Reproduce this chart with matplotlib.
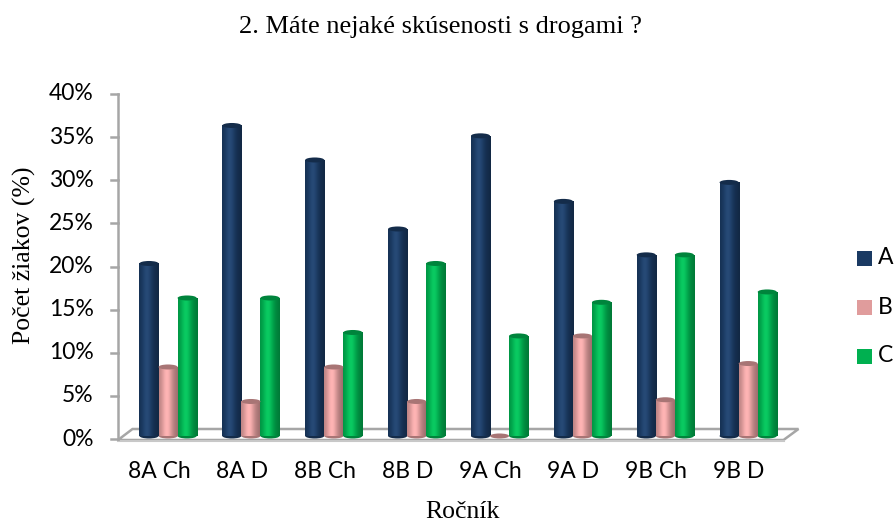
import numpy as np
import matplotlib.pyplot as plt
from matplotlib.patches import Rectangle, Ellipse, Polygon
from matplotlib.colors import to_rgb

# --- data ---
categories = ['8A Ch', '8A D', '8B Ch', '8B D', '9A Ch', '9A D', '9B Ch', '9B D']
series_names = ['A', 'B', 'C']
values_a = [20.0, 36.0, 32.0, 24.0, 34.8, 27.2, 21.0, 29.4]
values_b = [8.0, 4.0, 8.0, 4.0, 0.0, 11.6, 4.2, 8.4]
values_c = [16.0, 16.0, 12.0, 20.0, 11.6, 15.5, 21.0, 16.7]
y_ticks = [0, 5, 10, 15, 20, 25, 30, 35, 40]

colors = ['#1A3A63', '#E09C9C', '#00B050']
title = '2. Máte nejaké skúsenosti s drogami ?'
ylabel = 'Počet žiakov (%)'
xlabel = 'Ročník'

SANS = ['Lato', 'DejaVu Sans']
SERIF = ['Liberation Serif', 'DejaVu Serif']

W, H = 896, 524
fig = plt.figure(figsize=(W / 100, H / 100), dpi=100)
# plot area: x=-0.5 at px 117.5, x=7.5 at px 780.5; 0% at px 439, 40% at px 94
ax = fig.add_axes([117.5 / W, (H - 439) / H, 663 / W, 345 / H])
ax.set_xlim(-0.5, 7.5)
ax.set_ylim(0, 40)
ax.axis('off')

px_x = 8 / 663.0     # data units per pixel, x
px_y = 40 / 345.0    # data units per pixel, y

# perspective offsets for the 3d look
lift = 0.35          # bars sit a bit above the front floor edge
cap_h = 5 * px_y     # ellipse height of cylinder caps
bar_w = 0.23
offsets = [-0.12, 0.11, 0.34]


def shade(c, n=64):
    base = np.array(to_rgb(c))
    t = np.linspace(0, 1, n)
    # slightly lighter band left of centre, darker towards the edges
    f = 0.80 + 0.30 * np.exp(-((t - 0.4) / 0.3) ** 2) - 0.12 * t ** 3
    rgb = np.clip(base[None, :] * f[:, None] + 0.04 * np.exp(-((t - 0.4) / 0.2) ** 2)[:, None], 0, 1)
    return rgb[None, :, :]


# floor (thin 3d base)
gray = '#A6A6A6'
front_l = (-0.5 + 0.5 * px_x, -1.0 * px_y)
back_l = (-0.5 + 15 * px_x, 10 * px_y)
back_r = (-0.5 + 681 * px_x, 10 * px_y)
front_r = (-0.5 + 666 * px_x, -1.0 * px_y)
ax.add_patch(Polygon([front_l, back_l, back_r, front_r], closed=True,
                     facecolor='white', edgecolor=gray, lw=1.8, clip_on=False, zorder=1))
ax.plot([front_l[0], front_r[0]], [front_l[1] - 1.2 * px_y, front_r[1] - 1.2 * px_y],
        color='#C8C8C8', lw=1.5, clip_on=False, zorder=1)

# value axis with ticks
ax.plot([-0.5, -0.5], [0, 40], color=gray, lw=1.8, clip_on=False, zorder=2)
for t in y_ticks:
    ax.plot([-0.5 - 7 * px_x, -0.5], [t, t], color=gray, lw=1.8, clip_on=False, zorder=2)
    ax.text(-0.5 - 24 * px_x, t, f'{t}%', ha='right', va='center',
            fontsize=16.5, family=SANS, color='#000000')

for i, cat in enumerate(categories):
    ax.text(i, -33 * px_y, cat, ha='center', va='center', fontsize=16.5,
            family=SANS, color='#000000')

all_vals = [values_a, values_b, values_c]
for s, vals in enumerate(all_vals):
    col = colors[s]
    dark = tuple(np.array(to_rgb(col)) * 0.75)
    for i, v in enumerate(vals):
        x0 = i + offsets[s] - bar_w / 2
        y0 = lift
        y1 = lift + v
        z = 3 + i * 0.1
        if v > 0:
            rect = Rectangle((x0, y0), bar_w, v, facecolor='none', edgecolor='none')
            ax.add_patch(rect)
            im = ax.imshow(shade(col), extent=(x0, x0 + bar_w, y0, y1),
                           aspect='auto', zorder=z, interpolation='bilinear')
            im.set_clip_path(rect)
            # bottom rounded edge
            ax.add_patch(Ellipse((x0 + bar_w / 2, y0), bar_w, cap_h,
                                 facecolor=dark, edgecolor='none', zorder=z - 0.01))
        ax.add_patch(Ellipse((x0 + bar_w / 2, y1), bar_w, cap_h,
                             facecolor=dark, edgecolor='none', zorder=z + 0.01))

# reset limits after imshow
ax.set_xlim(-0.5, 7.5)
ax.set_ylim(0, 40)

# legend
for s, name in enumerate(series_names):
    ly = (H - 258 - 49 * s) / H
    fig.patches.append(Rectangle((857 / W, ly - 7.5 / H), 15 / W, 15 / H,
                                 transform=fig.transFigure, facecolor=colors[s],
                                 edgecolor='none'))
    fig.text(878 / W, ly, name, ha='left', va='center', fontsize=16.5, family=SANS)

fig.text(440 / W, 1 - 27 / H, title, ha='center', va='center', fontsize=19, family=SERIF)
fig.text(24 / W, 1 - 255 / H, ylabel, ha='center', va='center', rotation=90,
         fontsize=18.5, family=SERIF)
fig.text(462 / W, 1 - 512 / H, xlabel, ha='center', va='center', fontsize=18.5, family=SERIF)

fig.savefig('out.png', dpi=100)
